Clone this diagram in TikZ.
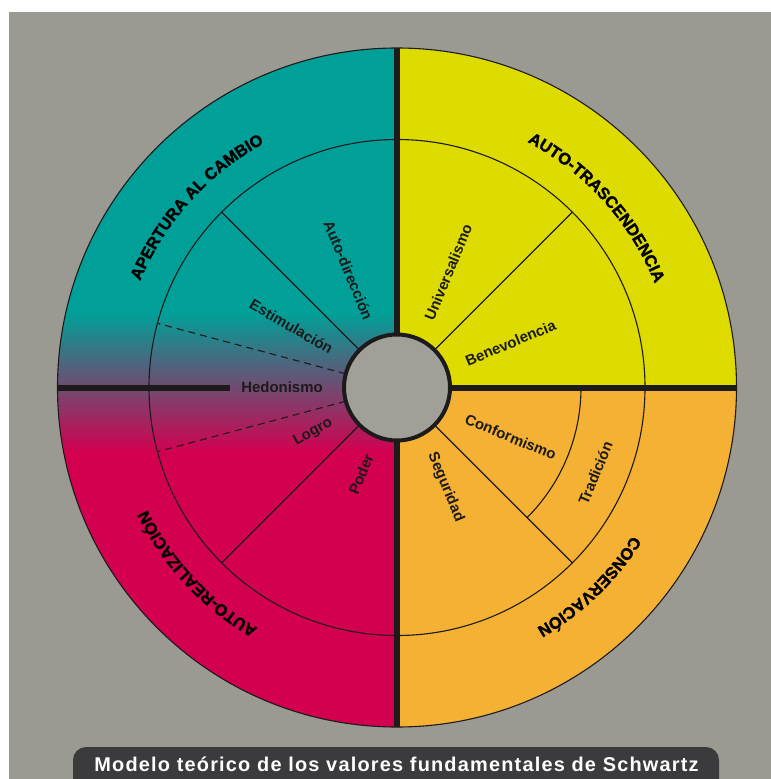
\documentclass[tikz,border=0pt]{standalone}
\usepackage{fontspec}
\setmainfont{Liberation Sans}
\newfontfamily\bannerfont{Liberation Sans}[LetterSpace=6]
\newfontfamily\heavyfont{Liberation Sans}[BoldFeatures={FakeBold=1.6}]
\usetikzlibrary{decorations.text}
\definecolor{cbg}{HTML}{9B9A92}
\definecolor{cteal}{HTML}{00A098}
\definecolor{cyel}{HTML}{DEDB00}
\definecolor{corange}{HTML}{F5B133}
\definecolor{ccrim}{HTML}{D3004F}
\definecolor{cpurp}{HTML}{5E4D7B}
\definecolor{chub}{HTML}{A09F98}
\definecolor{cline}{HTML}{1C1A1A}
\definecolor{cbanner}{HTML}{3B3B3D}
\newcommand\ttlfont{\heavyfont\bfseries\fontsize{16.5}{18}\selectfont}
\begin{document}
\begin{tikzpicture}[x=1bp,y=1bp,
  fine/.style={draw=cline,line width=1.1bp},
  axisline/.style={draw=cline,line width=6bp},
  lbl/.style={font=\fontsize{15}{17}\selectfont\bfseries,text=cline,inner sep=0pt},
  ttl/.style={decorate,decoration={text along path,text align=center,text={|\ttlfont|#1}}},
]
\useasboundingbox (0,0) rectangle (771,-779);
\clip (0,0) rectangle (771,-779);
\fill[white] (0,0) rectangle (771,-779);
\fill[cbg] (9,-12) rectangle (771,-779);
\begin{scope}[shift={(397,-387.5)}]
\def\R{339.5}\def\Rm{248}\def\Ri{53}
\coordinate (c) at (0,0);
% quadrant fills
\fill[cyel] (c) -- (0:\R) arc[start angle=0,end angle=90,radius=\R] -- cycle;
\fill[corange] (c) -- (-90:\R) arc[start angle=-90,end angle=0,radius=\R] -- cycle;
\begin{scope}
  \clip (c) -- (90:\R) arc[start angle=90,end angle=270,radius=\R] -- cycle;
  \fill[cteal] (-\R,\R) rectangle (0,74.5);
  \shade[top color=cteal,middle color=cpurp,bottom color=ccrim] (-\R,75) rectangle (0,-65);
  \fill[ccrim] (-\R,-64.5) rectangle (0,-\R);
\end{scope}
% rings
\draw[fine] (c) circle[radius=\R];
\draw[fine] (c) circle[radius=\Rm];
% radial separators
\foreach \a in {45,135,225,315}{
  \coordinate (i\a) at (\a:\Ri);
  \coordinate (o\a) at (\a:\Rm);
  \draw[fine] (i\a) -- (o\a);
}
\foreach \a in {165,195}{
  \coordinate (i\a) at (\a:\Ri);
  \coordinate (o\a) at (\a:\Rm);
  \draw[fine,dash pattern=on 7bp off 5bp] (i\a) -- (o\a);
}
% Tradicion arc
\coordinate (tradA) at (0:184);
\draw[fine] (tradA) arc[start angle=0,end angle=-45,radius=184];
% thick axes
\coordinate (top) at (90:\R);
\coordinate (bot) at (270:\R);
\coordinate (rin) at (0:\Ri);
\coordinate (rout) at (0:\R);
\coordinate (lout) at (180:\R);
\coordinate (lend) at (-167,0);
\draw[axisline] (top) -- (bot);
\draw[axisline] (rin) -- (rout);
\draw[axisline] (lout) -- (lend);
% hub
\node[circle,draw=cline,line width=4bp,fill=chub,minimum size=106bp,inner sep=0pt] (hub) at (c) {};
% value labels
\node[lbl,rotate=-67.5] (autodir) at (112.5:127) {Auto-dirección};
\node[lbl,rotate=-30] (estim) at (150:122) {Estimulación};
\node[lbl] (hedon) at (180:115) {Hedonismo};
\node[lbl,rotate=30] (logro) at (208:95) {Logro};
\node[lbl,rotate=67.5] (poder) at (247.5:94) {Poder};
\node[lbl,rotate=67.5] (univ) at (66:126) {Universalismo};
\node[lbl,rotate=22.5] (benev) at (21.5:122) {Benevolencia};
\node[lbl,rotate=-22.5] (conf) at (-23.5:124) {Conformismo};
\node[lbl,rotate=-67.5] (segur) at (-64:111) {Seguridad};
\node[lbl,rotate=67.5] (trad) at (-23.3:216) {Tradición};
% quadrant titles along arcs (clockwise, tops outward)
\path[ttl={APERTURA AL CAMBIO}] (178:278) arc[start angle=178,end angle=98,radius=278];
\path[ttl={AUTO-TRASCENDENCIA}] (82:278) arc[start angle=82,end angle=2,radius=278];
\path[ttl={CONSERVACIÓN}] (-6:278) arc[start angle=-6,end angle=-86,radius=278];
\path[ttl={AUTO-REALIZACIÓN}] (263:278) arc[start angle=263,end angle=183,radius=278];
\end{scope}
% banner
\fill[cbanner,rounded corners=13bp] (73,-747) rectangle (719,-800);
\node[text=white,font=\bannerfont\bfseries\fontsize{20}{22}\selectfont,inner sep=0pt,anchor=base] (banner) at (396.5,-771) {Modelo teórico de los valores fundamentales de Schwartz};
\end{tikzpicture}
\end{document}
